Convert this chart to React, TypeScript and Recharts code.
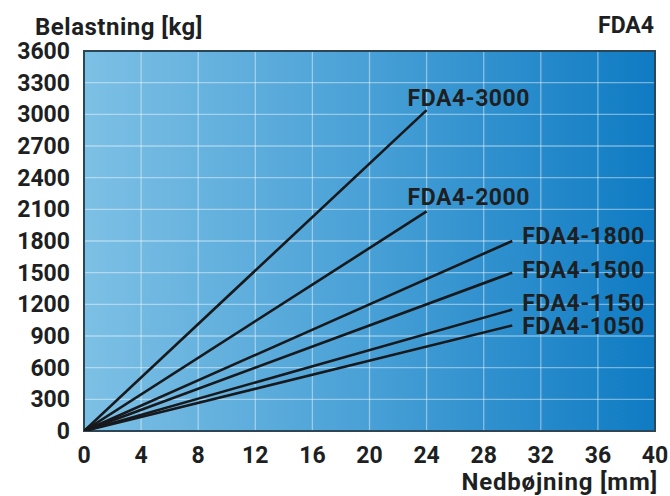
import React from "react";
import {
  LineChart,
  Line,
  XAxis,
  YAxis,
  CartesianGrid,
  ReferenceArea,
} from "recharts";

// Deflection [mm] and load [kg] end points of each beam type
const seriesNames = ["FDA4-3000", "FDA4-2000", "FDA4-1800", "FDA4-1500", "FDA4-1150", "FDA4-1050"];
const endDeflection = [24, 24, 30, 30, 30, 30];
const endLoad = [3040, 2080, 1800, 1500, 1150, 1000];

const xTicks = [0, 4, 8, 12, 16, 20, 24, 28, 32, 36, 40];
const yTicks = [0, 300, 600, 900, 1200, 1500, 1800, 2100, 2400, 2700, 3000, 3300, 3600];

// label offsets relative to each line's end point (style only)
const labelOffsets = [
  { dx: -19, dy: -4 },
  { dx: -19, dy: -6 },
  { dx: 10, dy: 3 },
  { dx: 10, dy: 5 },
  { dx: 10, dy: 1 },
  { dx: 10, dy: 9 },
];

const FONT = "Roboto, 'DejaVu Sans', sans-serif";
const INK = "#1e1f22";

export default function App() {
  return (
    <div style={{ position: "absolute", left: 0, top: 0, width: 670, height: 496, background: "#fff" }}>
      <LineChart
        width={670}
        height={496}
        margin={{ top: 51, right: 15, bottom: 35, left: 10 }}
      >
        <defs>
          <linearGradient id="bgGrad" x1="0" y1="0" x2="1" y2="0">
            <stop offset="0%" stopColor="#7dc0e5" />
            <stop offset="50%" stopColor="#48a0d6" />
            <stop offset="100%" stopColor="#0f7bc3" />
          </linearGradient>
        </defs>
        <CartesianGrid
          stroke="rgba(255,255,255,0.42)"
          strokeWidth={1.3}
          fill="url(#bgGrad)"
          fillOpacity={1}
        />
        <XAxis
          type="number"
          dataKey="x"
          domain={[0, 40]}
          ticks={xTicks}
          interval={0}
          allowDataOverflow
          axisLine={false}
          tickLine={false}
          tickSize={0}
          tickMargin={16}
          height={30}
          tick={{ fontSize: 23, fontWeight: 700, fill: INK, fontFamily: FONT }}
        />
        <YAxis
          type="number"
          domain={[0, 3600]}
          ticks={yTicks}
          interval={0}
          allowDataOverflow
          axisLine={false}
          tickLine={false}
          tickSize={0}
          tickMargin={14}
          width={74}
          tick={{ fontSize: 23, fontWeight: 700, fill: INK, fontFamily: FONT }}
        />
        <ReferenceArea
          x1={0}
          x2={40}
          y1={0}
          y2={3600}
          fill="none"
          fillOpacity={0}
          stroke="#2c4658"
          strokeWidth={2}
        />
        {seriesNames.map((name, i) => (
          <Line
            key={name}
            data={[
              { x: 0, y: 0 },
              { x: endDeflection[i], y: endLoad[i] },
            ]}
            dataKey="y"
            stroke="#17191c"
            strokeWidth={2.6}
            dot={false}
            activeDot={false}
            isAnimationActive={false}
            label={(props: any) =>
              props.index === 1 ? (
                <text
                  key={name + "-lbl"}
                  x={props.x + labelOffsets[i].dx}
                  y={props.y + labelOffsets[i].dy}
                  fontSize={23}
                  fontWeight={700}
                  fill={INK}
                  fontFamily={FONT}
                  letterSpacing={0.5}
                  textAnchor="start"
                >
                  {name}
                </text>
              ) : null
            }
          />
        ))}
        <text x={35} y={35} fontSize={24} fontWeight={700} fill={INK} fontFamily={FONT} letterSpacing={0.5}>
          Belastning [kg]
        </text>
        <text x={654} y={33} fontSize={23} fontWeight={700} fill={INK} fontFamily={FONT} textAnchor="end">
          FDA4
        </text>
        <text x={658} y={490} fontSize={24} fontWeight={700} fill={INK} fontFamily={FONT} letterSpacing={0.8} textAnchor="end">
          Nedbøjning [mm]
        </text>
      </LineChart>
    </div>
  );
}
